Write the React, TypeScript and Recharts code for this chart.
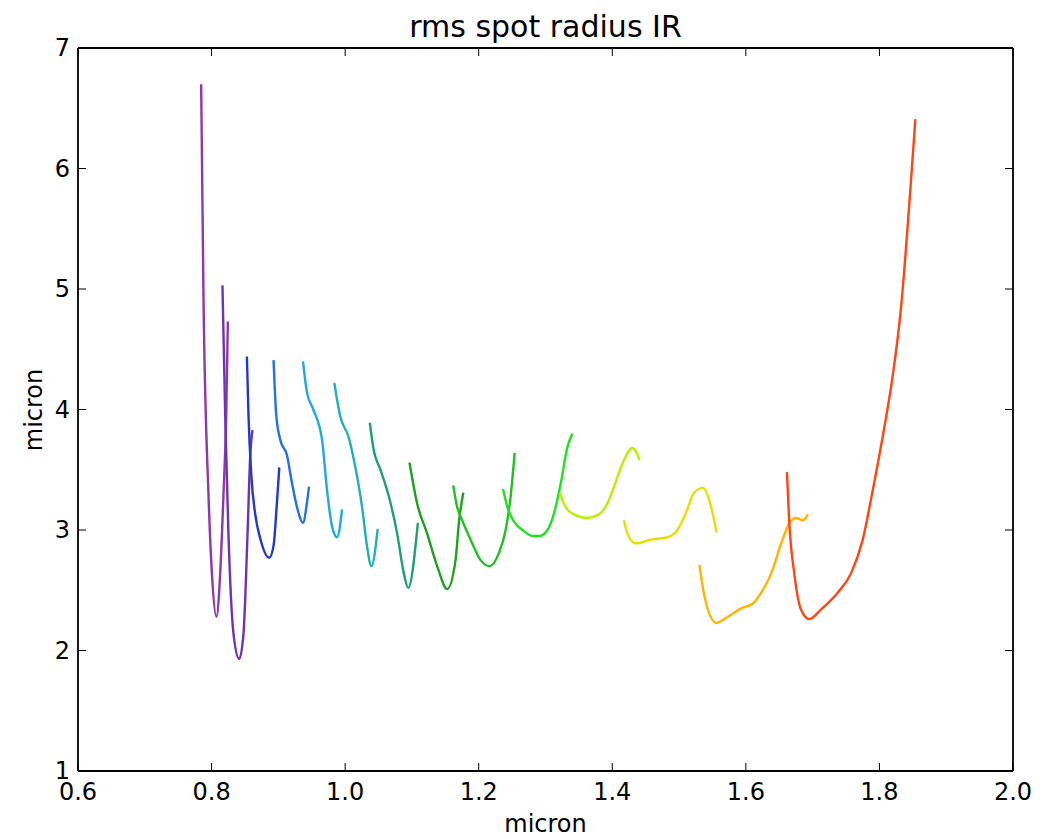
import React from 'react';
import { LineChart, Line, XAxis, YAxis } from 'recharts';

// each curve: [micron, rms spot radius]
const c01 = [[0.7844, 6.70], [0.7879, 4.93], [0.7954, 3.29], [0.8005, 2.64], [0.8073, 2.28], [0.8129, 2.64], [0.8178, 3.29], [0.8219, 3.95], [0.8244, 4.73]];
const c02 = [[0.8163, 5.03], [0.8204, 3.95], [0.8253, 2.96], [0.8328, 2.14], [0.8414, 1.93], [0.8478, 2.14], [0.8538, 2.96], [0.8579, 3.62], [0.8613, 3.83]];
const c03 = [[0.8529, 4.44], [0.8553, 3.95], [0.8594, 3.46], [0.8654, 3.13], [0.8729, 2.93], [0.8864, 2.77], [0.8928, 2.87], [0.8979, 3.23], [0.9014, 3.52]];
const c04 = [[0.8928, 4.41], [0.8969, 3.95], [0.9028, 3.75], [0.9129, 3.62], [0.9204, 3.39], [0.9279, 3.19], [0.9369, 3.06], [0.9429, 3.23], [0.9459, 3.36]];
const c05 = [[0.9369, 4.40], [0.9429, 4.14], [0.9523, 4.00], [0.9654, 3.75], [0.9729, 3.33], [0.9804, 3.03], [0.9879, 2.94], [0.9954, 3.17]];
const c06 = [[0.9838, 4.22], [0.9928, 3.94], [1.0053, 3.77], [1.0153, 3.52], [1.0254, 3.19], [1.0329, 2.86], [1.0393, 2.70], [1.0488, 3.01]];
const c07 = [[1.0369, 3.89], [1.0429, 3.66], [1.0529, 3.50], [1.0654, 3.28], [1.0779, 2.97], [1.0879, 2.64], [1.0944, 2.52], [1.1089, 3.06]];
const c08 = [[1.0963, 3.56], [1.1078, 3.22], [1.1228, 2.97], [1.1378, 2.70], [1.1528, 2.51], [1.1653, 2.75], [1.1703, 3.06], [1.1769, 3.31]];
const c09 = [[1.1618, 3.37], [1.1678, 3.19], [1.1753, 3.08], [1.1878, 2.92], [1.2028, 2.75], [1.2163, 2.70], [1.2303, 2.81], [1.2403, 3.00], [1.2478, 3.28], [1.2538, 3.64]];
const c10 = [[1.2364, 3.34], [1.2429, 3.19], [1.2529, 3.07], [1.2679, 2.99], [1.2804, 2.95], [1.2904, 2.95], [1.3029, 3.00], [1.3129, 3.14], [1.3229, 3.39], [1.3329, 3.69], [1.3404, 3.80]];
const c11 = [[1.3216, 3.31], [1.3301, 3.19], [1.3426, 3.13], [1.3626, 3.10], [1.3801, 3.13], [1.3926, 3.22], [1.4026, 3.36], [1.4151, 3.55], [1.4301, 3.68], [1.4411, 3.58]];
const c12 = [[1.4176, 3.08], [1.4226, 2.97], [1.4351, 2.89], [1.4576, 2.92], [1.4826, 2.94], [1.4976, 3.00], [1.5101, 3.14], [1.5226, 3.31], [1.5361, 3.35], [1.5451, 3.25], [1.5562, 2.98]];
const c13 = [[1.5305, 2.71], [1.5380, 2.45], [1.5555, 2.23], [1.5730, 2.28], [1.5930, 2.35], [1.6105, 2.39], [1.6230, 2.48], [1.6380, 2.64], [1.6530, 2.89], [1.6655, 3.06], [1.6755, 3.10], [1.6855, 3.08], [1.6930, 3.13]];
const c14 = [[1.6615, 3.48], [1.6650, 3.06], [1.6725, 2.64], [1.6825, 2.34], [1.6950, 2.26], [1.7125, 2.34], [1.7375, 2.48], [1.7575, 2.64], [1.7750, 2.92], [1.7900, 3.33], [1.8073, 3.85], [1.8199, 4.28], [1.8324, 4.85], [1.8448, 5.71], [1.8538, 6.41]];

const curves = [c01, c02, c03, c04, c05, c06, c07, c08, c09, c10, c11, c12, c13, c14];
const colors = ['#8e37a8', '#6e33b0', '#2238cc', '#2670e0', '#20a8e0', '#20b0b0', '#20a070', '#1fa020', '#22c022', '#22e022', '#b8f000', '#e6e000', '#ffb400', '#ff4514'];

const xTicks = [0.6, 0.8, 1.0, 1.2, 1.4, 1.6, 1.8, 2.0];
const yTicks = [1, 2, 3, 4, 5, 6, 7];

const FONT = '"DejaVu Sans", sans-serif';
const TL = 8; // inward tick length

const BottomTick = (p: any) => (
  <g>
    <line x1={p.x} x2={p.x} y1={p.y} y2={p.y - TL} stroke="#000" strokeWidth={1} />
    <text x={p.x} y={p.y + 29} textAnchor="middle" fontSize={24} fontFamily={FONT} fill="#000">
      {p.payload.value.toFixed(1)}
    </text>
  </g>
);
const LeftTick = (p: any) => (
  <g>
    <line x1={p.x} x2={p.x + TL} y1={p.y} y2={p.y} stroke="#000" strokeWidth={1} />
    <text x={p.x - 8} y={p.y + 8} textAnchor="end" fontSize={24} fontFamily={FONT} fill="#000">
      {p.payload.value}
    </text>
  </g>
);
const TopTick = (p: any) => <line x1={p.x} x2={p.x} y1={p.y} y2={p.y + TL} stroke="#000" strokeWidth={1} />;
const RightTick = (p: any) => <line x1={p.x} x2={p.x - TL} y1={p.y} y2={p.y} stroke="#000" strokeWidth={1} />;

const frame = { stroke: '#000', strokeWidth: 1.8 };

export default function App() {
  return (
    <div style={{ position: 'absolute', left: 0, top: 0, width: 1061, height: 839, background: '#fff', fontFamily: FONT }}>
      <div style={{ position: 'absolute', left: 78, width: 935, top: 12, lineHeight: 1, textAlign: 'center', fontSize: 30, color: '#000' }}>
        rms spot radius IR
      </div>
      <div style={{ position: 'absolute', left: 78, width: 935, top: 812, lineHeight: 1, textAlign: 'center', fontSize: 24, color: '#000' }}>
        micron
      </div>
      <div style={{ position: 'absolute', left: 34, top: 410, width: 0, height: 0 }}>
        <div style={{ position: 'absolute', left: 0, top: 0, fontSize: 24, lineHeight: 1, color: '#000', whiteSpace: 'nowrap', transform: 'translate(-50%, -50%) rotate(-90deg)' }}>
          micron
        </div>
      </div>
      <LineChart width={1061} height={839} margin={{ top: 47, right: 47, bottom: 8, left: 18 }}>
        <XAxis xAxisId="b" type="number" dataKey="0" domain={[0.6, 2.0]} ticks={xTicks} allowDataOverflow
          height={60} tickSize={0} tickMargin={0} tickLine={false} tick={BottomTick} axisLine={frame} />
        <XAxis xAxisId="t" orientation="top" type="number" dataKey="0" domain={[0.6, 2.0]} ticks={xTicks} allowDataOverflow
          height={1} tickSize={0} tickMargin={0} tickLine={false} tick={TopTick} axisLine={frame} />
        <YAxis yAxisId="l" type="number" domain={[1, 7]} ticks={yTicks} allowDataOverflow
          width={60} tickSize={0} tickMargin={0} tickLine={false} tick={LeftTick} axisLine={frame} />
        <YAxis yAxisId="r" orientation="right" type="number" domain={[1, 7]} ticks={yTicks} allowDataOverflow
          width={1} tickSize={0} tickMargin={0} tickLine={false} tick={RightTick} axisLine={frame} />
        {curves.map((c, i) => (
          <Line key={i} xAxisId="b" yAxisId="l" data={c} dataKey="1" type="monotone" stroke={colors[i]}
            strokeWidth={2.4} dot={false} activeDot={false} isAnimationActive={false} />
        ))}
      </LineChart>
    </div>
  );
}
